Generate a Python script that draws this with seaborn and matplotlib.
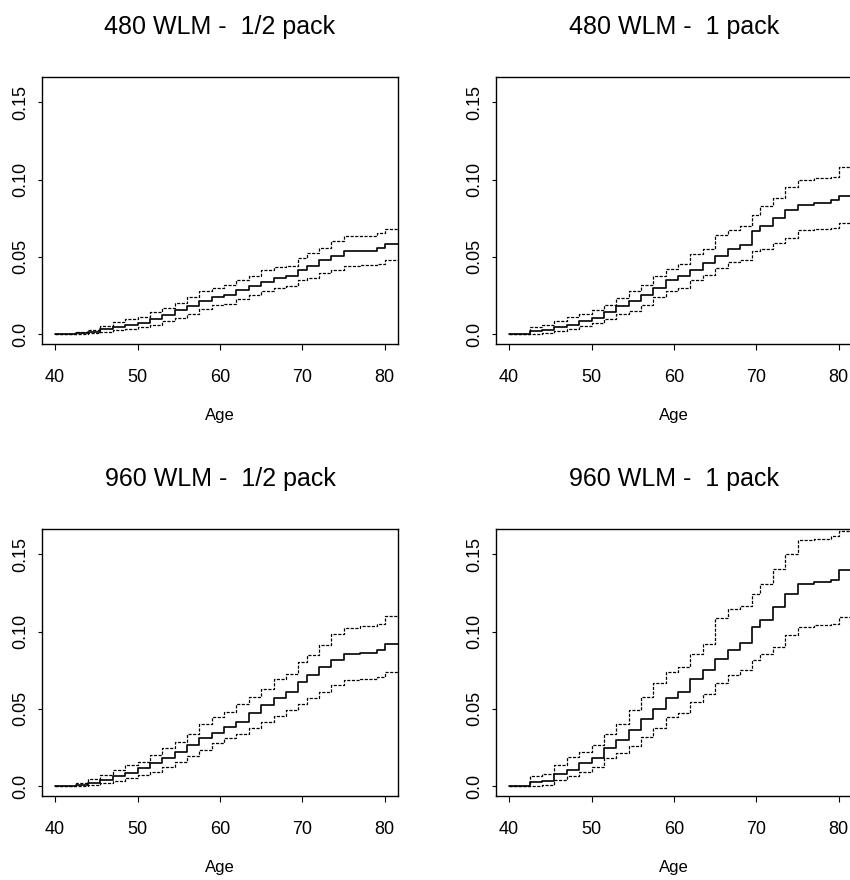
import matplotlib
matplotlib.use("Agg")
import matplotlib.pyplot as plt
import seaborn as sns

# ages where the step curves change (shared by all four panels)
ages = [40, 42.5, 44, 45.5, 47, 48.5, 50, 51.5, 53, 54.5, 56, 57.5, 59, 60.5,
        62, 63.5, 65, 66.5, 68, 69.5, 70.5, 72, 73.5, 75, 77, 79, 80, 81.6]

# 480 WLM - 1/2 pack
wlm480_half_mid = [0.0, 0.0006, 0.0013, 0.003, 0.0047, 0.006, 0.0075, 0.0099, 0.0125, 0.0155,
                   0.018, 0.0213, 0.0239, 0.0256, 0.0284, 0.031, 0.0338, 0.0363, 0.0378, 0.0417,
                   0.0439, 0.0477, 0.0508, 0.0535, 0.054, 0.0557, 0.058, 0.058]
wlm480_half_hi = [0.0, 0.0013, 0.0026, 0.0052, 0.0077, 0.0095, 0.0112, 0.0142, 0.017, 0.0202,
                  0.024, 0.0277, 0.0299, 0.032, 0.0348, 0.0374, 0.0413, 0.0432, 0.0443, 0.0492,
                  0.0525, 0.0557, 0.060, 0.0632, 0.0637, 0.0654, 0.068, 0.068]
wlm480_half_lo = [0.0, 0.0, 0.0004, 0.0013, 0.0024, 0.0034, 0.0043, 0.0062, 0.0084, 0.0105,
                  0.0133, 0.0163, 0.0187, 0.0198, 0.0228, 0.025, 0.0277, 0.0299, 0.0314, 0.0348,
                  0.0363, 0.0396, 0.0417, 0.0439, 0.0445, 0.0454, 0.048, 0.048]

# 480 WLM - 1 pack
wlm480_one_mid = [0.0, 0.002, 0.0026, 0.0047, 0.0062, 0.0084, 0.0105, 0.0142, 0.018, 0.0213,
                  0.0256, 0.0299, 0.0348, 0.0374, 0.0417, 0.046, 0.0503, 0.055, 0.0578, 0.0665,
                  0.0697, 0.075, 0.080, 0.0837, 0.0847, 0.0869, 0.0897, 0.0897]
wlm480_one_hi = [0.0, 0.0047, 0.0056, 0.0084, 0.0112, 0.0133, 0.0159, 0.0191, 0.0234, 0.0277,
                 0.032, 0.0374, 0.0422, 0.0456, 0.0516, 0.055, 0.0643, 0.0675, 0.0697, 0.0772,
                 0.0826, 0.088, 0.0955, 0.0998, 0.1009, 0.1019, 0.1084, 0.1084]
wlm480_one_lo = [0.0, 0.0, 0.0009, 0.0019, 0.0034, 0.0052, 0.0069, 0.0095, 0.0127, 0.0148,
                 0.0191, 0.0241, 0.0277, 0.0299, 0.0348, 0.0385, 0.0428, 0.0465, 0.0477, 0.0535,
                 0.055, 0.0589, 0.0622, 0.0671, 0.0682, 0.0686, 0.0718, 0.0718]

# 960 WLM - 1/2 pack
wlm960_half_mid = [0.0, 0.0009, 0.0017, 0.0039, 0.0065, 0.0082, 0.0114, 0.0147, 0.0179, 0.0222,
                   0.0265, 0.0308, 0.0345, 0.0384, 0.0416, 0.047, 0.0524, 0.0573, 0.061, 0.0675,
                   0.0718, 0.0772, 0.0819, 0.0858, 0.0862, 0.0879, 0.0918, 0.0918]
wlm960_half_hi = [0.0, 0.0017, 0.0043, 0.0071, 0.0103, 0.0136, 0.0157, 0.020, 0.0244, 0.0287,
                  0.034, 0.0401, 0.0448, 0.0481, 0.0534, 0.0578, 0.0631, 0.0696, 0.0724, 0.0804,
                  0.0847, 0.0912, 0.0987, 0.1026, 0.1039, 0.1047, 0.1103, 0.1103]
wlm960_half_lo = [0.0, 0.0, 0.0006, 0.0017, 0.0034, 0.005, 0.0071, 0.0093, 0.0121, 0.0157,
                  0.0194, 0.0233, 0.0276, 0.0308, 0.034, 0.0373, 0.0416, 0.0453, 0.0491, 0.0534,
                  0.0567, 0.061, 0.0653, 0.0685, 0.0696, 0.0707, 0.0741, 0.0741]

# 960 WLM - 1 pack
wlm960_one_mid = [0.0, 0.0028, 0.0034, 0.0078, 0.0103, 0.0147, 0.0179, 0.0244, 0.0297, 0.0362,
                  0.0437, 0.0502, 0.0567, 0.061, 0.0696, 0.075, 0.0825, 0.0879, 0.0927, 0.103,
                  0.1078, 0.1159, 0.1246, 0.1306, 0.1321, 0.1332, 0.1401, 0.1401]
wlm960_one_hi = [0.0, 0.0065, 0.0078, 0.0136, 0.0185, 0.0222, 0.0265, 0.034, 0.0401, 0.0491,
                 0.0578, 0.0664, 0.0739, 0.0772, 0.0858, 0.0922, 0.1091, 0.1147, 0.1168, 0.1246,
                 0.131, 0.1407, 0.1504, 0.159, 0.1601, 0.1616, 0.1651, 0.1651]
wlm960_one_lo = [0.0, 0.0, 0.0006, 0.0039, 0.0065, 0.0093, 0.0121, 0.0179, 0.0211, 0.0259,
                 0.0319, 0.0373, 0.0444, 0.0474, 0.0545, 0.0599, 0.0664, 0.0718, 0.075, 0.0815,
                 0.0858, 0.0901, 0.0976, 0.103, 0.1041, 0.1052, 0.1095, 0.1095]

titles = ["480 WLM -  1/2 pack", "480 WLM -  1 pack",
          "960 WLM -  1/2 pack", "960 WLM -  1 pack"]
curves = [
    (wlm480_half_lo, wlm480_half_mid, wlm480_half_hi),
    (wlm480_one_lo, wlm480_one_mid, wlm480_one_hi),
    (wlm960_half_lo, wlm960_half_mid, wlm960_half_hi),
    (wlm960_one_lo, wlm960_one_mid, wlm960_one_hi),
]
x_ticks = [40, 50, 60, 70, 80]
y_ticks = [0.0, 0.05, 0.10, 0.15]
y_tick_labels = ["0.0", "0.05", "0.10", "0.15"]

sns.set_theme(style="ticks")
plt.rcParams["font.family"] = ["Liberation Sans", "DejaVu Sans"]
plt.rcParams.update({"text.color": "black", "axes.labelcolor": "black",
                     "xtick.color": "black", "ytick.color": "black"})

fig = plt.figure(figsize=(8.5, 8.8), dpi=100)
boxes = [
    [0.0494, 0.6091, 0.4188, 0.3034],
    [0.5835, 0.6091, 0.4188, 0.3034],
    [0.0494, 0.0955, 0.4188, 0.3034],
    [0.5835, 0.0955, 0.4188, 0.3034],
]

dash = (0, (2.5, 1.2))
for box, title, (lo, mid, hi) in zip(boxes, titles, curves):
    ax = fig.add_axes(box)
    sns.lineplot(x=ages, y=hi, ax=ax, color="black", lw=0.9, linestyle=dash,
                 drawstyle="steps-post", estimator=None)
    sns.lineplot(x=ages, y=mid, ax=ax, color="black", lw=1.2,
                 drawstyle="steps-post", estimator=None)
    sns.lineplot(x=ages, y=lo, ax=ax, color="black", lw=0.9, linestyle=dash,
                 drawstyle="steps-post", estimator=None)
    ax.set_xlim(38.4, 81.6)
    ax.set_ylim(-0.0064, 0.1664)
    ax.set_xticks(x_ticks)
    ax.set_yticks(y_ticks)
    ax.set_yticklabels(y_tick_labels, rotation=90, va="center")
    ax.tick_params(axis="x", length=4, width=0.8, pad=14, labelsize=13)
    ax.tick_params(axis="y", length=3, width=0.8, pad=6, labelsize=13)
    for s in ax.spines.values():
        s.set_visible(True)
        s.set_color("black")
        s.set_linewidth(1.0)
    ax.set_xlabel("Age", fontsize=12, labelpad=16)
    ax.set_ylabel("")
    ax.set_title(title, fontsize=18, pad=31)

fig.savefig("out.png", dpi=100)
